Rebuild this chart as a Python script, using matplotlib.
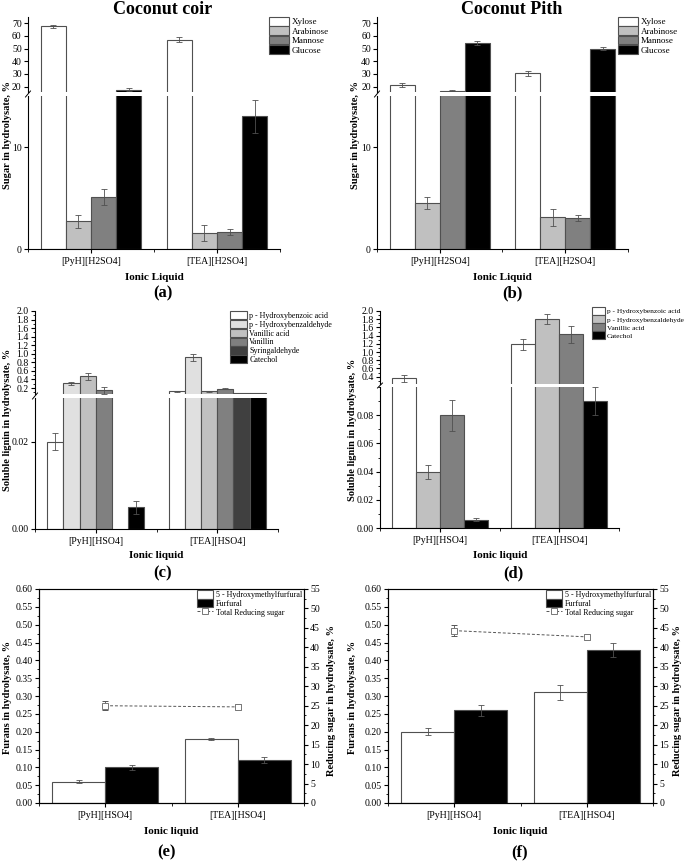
import numpy as np
import matplotlib
matplotlib.use("Agg")
import matplotlib.pyplot as plt
from matplotlib.lines import Line2D
from matplotlib.ticker import MultipleLocator, FormatStrFormatter

plt.rcParams['font.family'] = ['Liberation Serif', 'DejaVu Serif']
plt.rcParams['font.size'] = 6.5
plt.rcParams['ytick.labelsize'] = 7

W, H = 685, 861

# ---------------- data ----------------
il_sugar = ['[PyH][H2SO4]', '[TEA][H2SO4]']
il_names = ['[PyH][HSO4]', '[TEA][HSO4]']

sugars = ['Xylose', 'Arabinose', 'Mannose', 'Glucose']
sugar_colors = ['white', '#c0c0c0', '#808080', 'black']
coir_sugar = [[67.5, 57.0], [2.7, 1.6], [5.1, 1.7], [17.6, 13.0]]
coir_sugar_err = [[1.5, 2.0], [0.6, 0.8], [0.8, 0.3], [1.5, 1.6]]
pith_sugar = [[21.0, 30.5], [4.5, 3.1], [16.8, 3.0], [54.5, 50.0]]
pith_sugar_err = [[1.5, 2.0], [0.6, 0.8], [0.3, 0.3], [1.5, 1.0]]

coir_lignin_names = ['p - Hydroxybenzoic acid', 'p - Hydroxybenzaldehyde', 'Vanillic acid',
                     'Vanillin', 'Syringaldehyde', 'Catechol']
coir_lignin_colors = ['white', '#e0e0e0', '#c0c0c0', '#808080', '#404040', 'black']
coir_lignin = [[0.020, 0.12], [0.31, 0.92], [0.47, 0.12], [0.15, 0.18], [np.nan, 0.08], [0.005, 0.08]]
coir_lignin_err = [[0.002, 0.005], [0.03, 0.08], [0.09, 0.02], [0.08, 0.01], [np.nan, 0.005], [0.0015, 0.005]]

pith_lignin_names = ['p - Hydroxybenzoic acid', 'p - Hydroxybenzaldehyde', 'Vanillic acid', 'Catechol']
pith_lignin_colors = ['white', '#c0c0c0', '#808080', 'black']
pith_lignin = [[0.36, 1.19], [0.04, 1.80], [0.08, 1.43], [0.006, 0.09]]
pith_lignin_err = [[0.08, 0.13], [0.005, 0.12], [0.011, 0.20], [0.001, 0.01]]

furan_names = ['5 - Hydroxymethylfurfural', 'Furfural']
furan_colors = ['white', 'black']
coir_furan = [[0.06, 0.18], [0.10, 0.12]]
coir_furan_err = [[0.005, 0.002], [0.007, 0.009]]
coir_rs = [25.0, 24.7]
coir_rs_err = [1.2, 0.8]
pith_furan = [[0.20, 0.31], [0.26, 0.43]]
pith_furan_err = [[0.01, 0.02], [0.015, 0.02]]
pith_rs = [44.3, 42.7]
pith_rs_err = [1.5, 0.8]

fig = plt.figure(figsize=(W / 100, H / 100), dpi=100)


def rect(x0, y0, x1, y1):
    return [x0 / W, 1 - y1 / H, (x1 - x0) / W, (y1 - y0) / H]


def draw_bars(ax, vals, errs, colors, names):
    n = len(vals)
    w = 0.8 / n
    x = np.array([1, 2])
    for i in range(n):
        v = np.array(vals[i], dtype=float)
        e = np.array(errs[i], dtype=float)
        ok = ~np.isnan(v)
        pos = x - 0.4 + w * (i + 0.5)
        ax.bar(pos[ok], v[ok], w, color=colors[i], edgecolor='#505050', lw=0.8,
               label=names[i], zorder=2)
        ax.errorbar(pos[ok], v[ok], yerr=e[ok], fmt='none', ecolor='#505050',
                    elinewidth=0.6, capsize=2, capthick=0.6, zorder=3)


def style_x(ax, labels):
    ax.set_xlim(0.5, 2.5)
    ax.set_xticks([1, 2])
    ax.set_xticks([0.5, 1.5, 2.5], minor=True)
    ax.set_xticklabels(labels, fontsize=7)
    ax.tick_params(axis='x', which='major', direction='out', length=3, pad=3)
    ax.tick_params(axis='x', which='minor', direction='out', length=2)


def broken(xr, yup, ylow, lim_up, lim_low, vals, errs, colors, names, labels):
    axu = fig.add_axes(rect(xr[0], yup[0], xr[1], yup[1]))
    axl = fig.add_axes(rect(xr[0], ylow[0], xr[1], ylow[1]))
    for ax, lim in ((axu, lim_up), (axl, lim_low)):
        draw_bars(ax, vals, errs, colors, names)
        ax.set_ylim(*lim)
        ax.spines['top'].set_visible(False)
        ax.spines['right'].set_visible(False)
        ax.tick_params(axis='y', which='both', direction='out', length=3, pad=1.5)
        ax.tick_params(axis='y', which='minor', length=1.5)
    axu.spines['bottom'].set_visible(False)
    axu.set_xlim(0.5, 2.5)
    axu.set_xticks([])
    style_x(axl, labels)
    # break mark on left spine
    xm = xr[0] / W
    y0 = 1 - (yup[1] + 2) / H
    y1 = 1 - (ylow[0] - 2) / H
    fig.add_artist(Line2D([xm - 2.5 / W, xm + 2.5 / W], [y1 - 3 / H, y0 + 3 / H],
                          color='black', lw=0.7))
    return axu, axl


def legend(ax, x, y, hl, hh, fs):
    ax.legend(loc='upper left', bbox_to_anchor=(x / W, 1 - y / H), bbox_transform=fig.transFigure,
              frameon=False, fontsize=fs, handlelength=hl, handleheight=hh, labelspacing=0.0,
              handletextpad=0.3, borderpad=0, borderaxespad=0)


def ylab(x, y, s, rot=90):
    fig.text(x / W, 1 - y / H, s, rotation=rot, ha='center', va='center',
             fontsize=7.5, fontweight='bold')


def txt(x, y, s, fs):
    fig.text(x / W, 1 - y / H, s, ha='center', va='center', fontsize=fs, fontweight='bold')


# ---------------- (a) Coconut coir sugars ----------------
au, al = broken((28, 280), (17, 92), (96, 249), (15.7, 75), (0, 15),
                coir_sugar, coir_sugar_err, sugar_colors, sugars, il_sugar)
au.set_yticks([20, 30, 40, 50, 60, 70])
al.set_yticks([0, 10])
legend(au, 269, 17, 2.2, 1.1, 6.5)
ylab(8, 135, 'Sugar in hydrolysate, %')
txt(154, 277, 'Ionic Liquid', 8)
txt(163, 293, '(a)', 12)
txt(163, 9, 'Coconut coir', 13)

# ---------------- (b) Coconut pith sugars ----------------
bu, bl = broken((377, 628), (17, 92), (96, 249), (15.7, 75), (0, 15),
                pith_sugar, pith_sugar_err, sugar_colors, sugars, il_sugar)
bu.set_yticks([20, 30, 40, 50, 60, 70])
bl.set_yticks([0, 10])
legend(bu, 618, 17, 2.2, 1.1, 6.5)
ylab(355, 135, 'Sugar in hydrolysate, %')
txt(502, 277, 'Ionic Liquid', 8)
txt(512, 293, '(b)', 12)
txt(512, 9, 'Coconut Pith', 13)

# ---------------- (c) Coconut coir lignin ----------------
cu, cl = broken((35, 278), (311, 394), (398, 529), (0.06, 2.0), (0, 0.03),
                coir_lignin, coir_lignin_err, coir_lignin_colors, coir_lignin_names, il_names)
cu.set_yticks(np.arange(0.2, 2.01, 0.2))
cu.yaxis.set_major_formatter(FormatStrFormatter('%.1f'))
cu.yaxis.set_minor_locator(MultipleLocator(0.1))
cl.set_yticks([0.0, 0.02])
cl.yaxis.set_major_formatter(FormatStrFormatter('%.2f'))
legend(cu, 230, 311, 2.1, 1.2, 5.8)
ylab(8, 420, 'Soluble lignin in hydrolysate, %')
txt(156, 555, 'Ionic liquid', 8)
txt(163, 573, '(c)', 12)

# ---------------- (d) Coconut pith lignin ----------------
du, dl = broken((380, 619), (311, 384), (387, 528), (0.22, 2.0), (0, 0.1),
                pith_lignin, pith_lignin_err, pith_lignin_colors, pith_lignin_names, il_names)
du.set_yticks(np.arange(0.4, 2.01, 0.2))
du.yaxis.set_major_formatter(FormatStrFormatter('%.1f'))
du.yaxis.set_minor_locator(MultipleLocator(0.1))
dl.set_yticks(np.arange(0, 0.081, 0.02))
dl.yaxis.set_major_formatter(FormatStrFormatter('%.2f'))
dl.yaxis.set_minor_locator(MultipleLocator(0.01))
legend(du, 592, 307, 1.7, 1.3, 5.3)
ylab(353, 430, 'Soluble lignin in hydrolysate, %')
txt(500, 555, 'Ionic liquid', 8)
txt(513, 573, '(d)', 12)


# ---------------- (e)/(f) furans + reducing sugar ----------------
def furan_panel(xr, vals, errs, rs, rs_err, leg_x):
    ax = fig.add_axes(rect(xr[0], 589, xr[1], 803))
    draw_bars(ax, vals, errs, furan_colors, furan_names)
    ax.set_ylim(0, 0.6)
    ax.yaxis.set_major_locator(MultipleLocator(0.05))
    ax.yaxis.set_minor_locator(MultipleLocator(0.025))
    ax.yaxis.set_major_formatter(FormatStrFormatter('%.2f'))
    ax.tick_params(axis='y', which='both', direction='out', length=3, pad=1.5)
    ax.tick_params(axis='y', which='minor', length=1.5)
    style_x(ax, il_names)
    ax.spines['top'].set_color('#777777')
    ax2 = ax.twinx()
    ax2.errorbar([1, 2], rs, yerr=rs_err, ls='--', dashes=(3, 2), color='#555555', lw=0.7,
                 marker='s', ms=4, mfc='white', mec='#777777', mew=0.7,
                 ecolor='#555555', elinewidth=0.6, capsize=2, capthick=0.6)
    ax2.set_ylim(0, 55)
    ax2.yaxis.set_major_locator(MultipleLocator(5))
    ax2.yaxis.set_minor_locator(MultipleLocator(2.5))
    ax2.tick_params(axis='y', which='both', direction='out', length=3, pad=1.5)
    ax2.tick_params(axis='y', which='minor', length=1.5)
    h, l = ax.get_legend_handles_labels()
    h.append(Line2D([], [], ls='--', dashes=(3, 2), color='#555555', lw=0.7,
                    marker='s', ms=4, mfc='white', mec='#777777', mew=0.7))
    l.append('Total Reducing sugar')
    ax2.legend(h, l, loc='upper left', bbox_to_anchor=(leg_x / W, 1 - 590 / H),
               bbox_transform=fig.transFigure, frameon=False, fontsize=5.8,
               handlelength=2.0, handleheight=1.25, labelspacing=0.0,
               handletextpad=0.3, borderpad=0, borderaxespad=0)
    return ax, ax2


furan_panel((39, 304), coir_furan, coir_furan_err, coir_rs, coir_rs_err, 197)
ylab(8, 697, 'Furans in hydrolysate, %')
ylab(331, 700, 'Reducing sugar in hydrolysate, %')
txt(171, 832, 'Ionic liquid', 8)
txt(167, 852, '(e)', 12)

furan_panel((388, 653), pith_furan, pith_furan_err, pith_rs, pith_rs_err, 546)
ylab(353, 697, 'Furans in hydrolysate, %')
ylab(677, 700, 'Reducing sugar in hydrolysate, %')
txt(520, 832, 'Ionic liquid', 8)
txt(520, 852, '(f)', 12)

fig.savefig('out.png', dpi=100)
